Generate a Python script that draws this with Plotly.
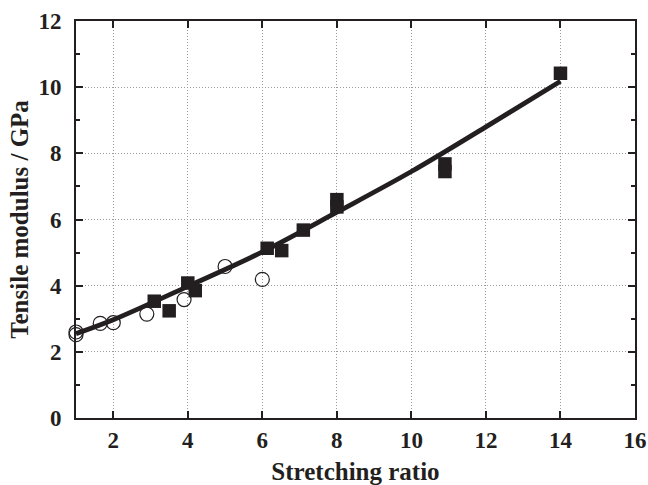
import plotly.graph_objects as go

# Open circles
circle_x = [1.0, 1.0, 1.65, 2.0, 2.9, 3.9, 5.0, 6.0]
circle_y = [2.6, 2.52, 2.86, 2.88, 3.14, 3.58, 4.58, 4.19]

# Filled squares
square_x = [3.1, 3.5, 4.0, 4.2, 6.13, 6.52, 7.1, 8.0, 8.0, 10.9, 10.9, 14.0]
square_y = [3.53, 3.24, 4.08, 3.85, 5.13, 5.06, 5.68, 6.6, 6.38, 7.68, 7.45, 10.42]

# Fitted curve (read at points)
curve_x = [1, 2, 4, 6, 8, 10, 12, 14]
curve_y = [2.55, 2.97, 3.98, 5.02, 6.22, 7.45, 8.8, 10.18]

x_ticks = [2, 4, 6, 8, 10, 12, 14, 16]
y_ticks = [0, 2, 4, 6, 8, 10, 12]

ink = "#231f20"
font_family = "Liberation Serif, Times New Roman, serif"

fig = go.Figure()
fig.add_trace(go.Scatter(
    x=circle_x, y=circle_y, mode="markers", cliponaxis=False,
    marker=dict(symbol="circle-open", size=14, color=ink, line=dict(width=1.2, color=ink)),
    showlegend=False))
fig.add_trace(go.Scatter(
    x=curve_x, y=curve_y, mode="lines", line=dict(shape="spline", width=4.8, color=ink),
    showlegend=False))
fig.add_trace(go.Scatter(
    x=square_x, y=square_y, mode="markers", cliponaxis=False,
    marker=dict(symbol="square", size=13.5, color=ink, line=dict(width=0)),
    showlegend=False))

axis_common = dict(
    showline=True, linewidth=2, linecolor=ink, mirror="ticks",
    ticks="inside", ticklen=7, tickwidth=2, tickcolor=ink,
    showgrid=True, gridcolor="#9a9a9a", griddash="1px,2px", gridwidth=1,
    zeroline=False, automargin=False,
    tickfont=dict(family=font_family, size=23, color=ink, weight="bold"),
)

fig.update_xaxes(
    range=[1, 16], tickvals=x_ticks, ticktext=[str(v) for v in x_ticks],
    ticklabelstandoff=0,
    title=dict(text="Stretching ratio", standoff=21,
               font=dict(family=font_family, size=25, color=ink, weight="bold")),
    **axis_common)
fig.update_yaxes(
    range=[0, 12], tickvals=y_ticks, ticktext=[str(v) for v in y_ticks],
    ticklabelstandoff=8,
    minor=dict(dtick=1, ticks="inside", ticklen=4, tickwidth=2, tickcolor=ink, showgrid=False),
    title=dict(text="Tensile modulus / GPa", standoff=3,
               font=dict(family=font_family, size=25, color=ink, weight="bold")),
    **axis_common)

fig.update_layout(
    width=648, height=485,
    margin=dict(l=76, r=13, t=21, b=67),
    paper_bgcolor="white", plot_bgcolor="white",
    showlegend=False,
)

fig.write_html("out.html", config={"displayModeBar": False},
               post_script="document.body.style.margin='0';document.body.style.overflow='hidden';")
